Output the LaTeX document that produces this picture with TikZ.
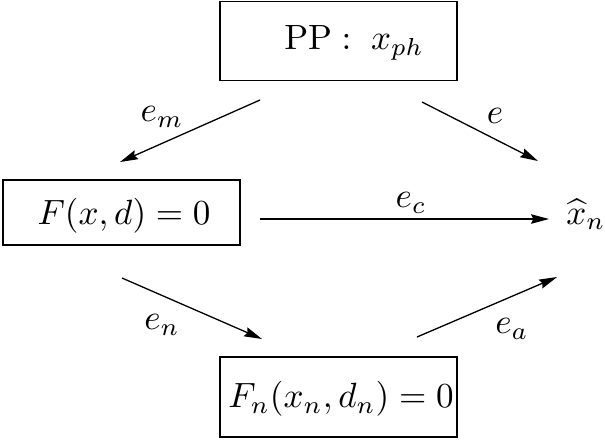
\documentclass[tikz,border=0pt]{standalone}
\usetikzlibrary{arrows.meta}
\begin{document}
\begin{tikzpicture}[x=0.285pt,y=-0.285pt,
  box/.style={draw,line width=0.37pt,inner sep=0pt,minimum width=237*0.285pt},
  lbl/.style={inner sep=0pt},
  link/.style={line width=0.37pt,-{Stealth[length=5.1pt,width=2.7pt,inset=0.6pt]}}]
\useasboundingbox (0,0) rectangle (605,441);
% three model levels
\node[box,minimum height=79*0.285pt] (pp) at (338.5,41) {};
\node[lbl] (pptext) at (354,43) {$\mathrm{PP}:\; x_{ph}$};
\node[box,minimum height=65*0.285pt] (fc) at (121.5,212.5) {};
\node[lbl] (fctext) at (124,216) {$F(x,d)=0$};
\node[box,minimum height=80*0.285pt] (fn) at (338.5,397) {};
\node[lbl] (fntext) at (341,399) {$F_n(x_n,d_n)=0$};
\node[lbl] (xh) at (586,214) {$\widehat{x}_n$};
% arrow end points
\coordinate (m1) at (260,100); \coordinate (m2) at (120,162);
\coordinate (t1) at (422,102); \coordinate (t2) at (538,161);
\coordinate (c1) at (260,219); \coordinate (c2) at (549,219);
\coordinate (n1) at (122,278); \coordinate (n2) at (262,339);
\coordinate (a1) at (417,337); \coordinate (a2) at (557,277);
\draw[link] (m1) -- (m2);
\draw[link] (t1) -- (t2);
\draw[link] (c1) -- (c2);
\draw[link] (n1) -- (n2);
\draw[link] (a1) -- (a2);
% error labels
\node[lbl] (lm) at (162,117) {$e_m$};
\node[lbl] (lt) at (495,116) {$e$};
\node[lbl] (lc) at (411,203) {$e_c$};
\node[lbl] (ln) at (162,325) {$e_n$};
\node[lbl] (la) at (512,329) {$e_a$};
\end{tikzpicture}
\end{document}
